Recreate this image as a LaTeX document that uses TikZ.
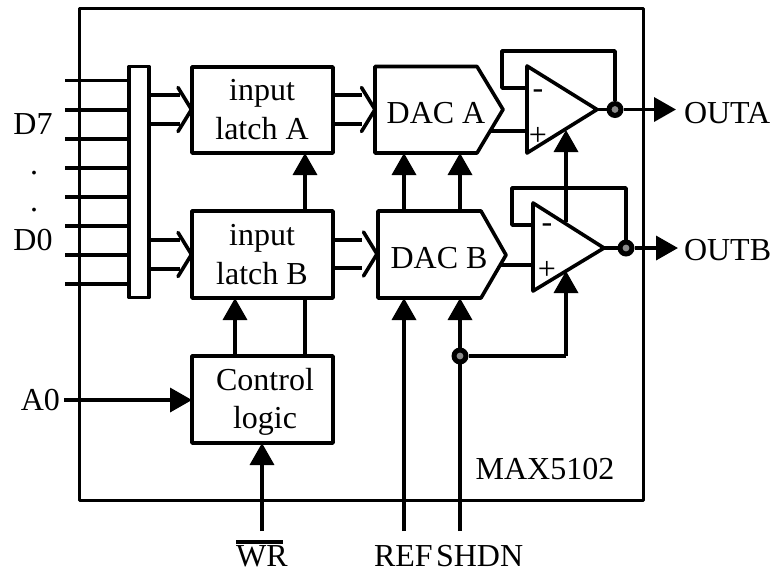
\documentclass[tikz,border=0pt]{standalone}
\usepackage{fontspec}
\setmainfont{Liberation Serif}
\usetikzlibrary{arrows.meta,calc}
\tikzset{
  wire/.style={line width=3.6pt,line join=round},
  sig/.style={wire,-{Triangle[length=22pt,width=24pt]}},
  block/.style={draw,wire,fill=white,inner sep=0pt,outer sep=0pt,minimum width=141pt},
  lbl/.style={inner sep=0pt,outer sep=0pt,anchor=base,font=\fontsize{32}{36}\selectfont},
  dotj/.style={circle,fill=black,inner sep=0pt,outer sep=0pt,minimum size=17pt,
    path picture={\fill[black!45] (path picture bounding box.center) circle (3.4pt);}},
}
\begin{document}
\begin{tikzpicture}[x=1pt,y=-1pt]
\useasboundingbox (0,0) rectangle (781,574);

% package outline
\node[draw,wire,inner sep=0pt,outer sep=0pt,minimum width=564pt,minimum height=492pt] (chip) at (361.5,254.5) {};
\node[lbl] (maxname) at (545,479) {MAX5102};

% data inputs and bus bar
\node[draw,wire,fill=white,inner sep=0pt,outer sep=0pt,minimum width=20pt,minimum height=231pt] (bar) at (139,182) {};
\foreach \i/\y in {1/80.5,2/110,3/139,4/168,5/197,6/226,7/255,8/284}{
  \coordinate (in\i) at (65,\y);
  \draw[wire] (in\i) -- (bar.west |- in\i);
}
\node[lbl] (d7) at (33,134) {D7};
\node[lbl] (d0) at (33,250) {D0};
\node[lbl] (dota) at (34,174) {.};
\node[lbl] (dotb) at (34,211) {.};

% blocks
\node[block,minimum height=86pt] (la) at (262.5,110) {};
\node[block,minimum height=87pt] (lb) at (262.5,254.5) {};
\node[block,minimum height=87pt] (ctl) at (262.5,399.5) {};
\node[lbl] (la1) at (262,100) {input};
\node[lbl] (la2) at (262,139) {latch A};
\node[lbl] (lb1) at (262,245) {input};
\node[lbl] (lb2) at (262,284) {latch B};
\node[lbl] (c1) at (265,390) {Control};
\node[lbl] (c2) at (265,428) {logic};

% DACs
\coordinate (dacaNW) at (375,66.5);
\coordinate (dacaNE) at (477,66.5);
\coordinate (dacaT) at (503,109.5);
\coordinate (dacaSE) at (477,153);
\coordinate (dacaSW) at (375,153);
\draw[wire,fill=white] (dacaNW) -- (dacaNE) -- (dacaT) -- (dacaSE) -- (dacaSW) -- cycle;
\node[lbl] (dacaL) at (436,123) {DAC A};
\coordinate (dacbNW) at (378,211);
\coordinate (dacbNE) at (481,211);
\coordinate (dacbT) at (506,255);
\coordinate (dacbSE) at (481,298);
\coordinate (dacbSW) at (378,298);
\draw[wire,fill=white] (dacbNW) -- (dacbNE) -- (dacbT) -- (dacbSE) -- (dacbSW) -- cycle;
\node[lbl] (dacbL) at (439,268) {DAC B};

% hollow bus arrows
\foreach \sx/\ex/\tip/\ya/\yb/\cy in {149/180/191.5/95/124/109.5, 149/180/191.5/240/269/254.5, 333/362/375/95/124/109.5, 333/362/377/240/268/254}{
  \draw[wire] (\sx,\ya) -- (\ex,\ya);
  \draw[wire] (\sx,\yb) -- (\ex,\yb);
  \draw[wire,line cap=round] (\tip-13.5,\cy-22) -- (\tip,\cy) -- (\tip-13.5,\cy+22);
}

% op amps
\coordinate (ampaT) at (527,66);
\coordinate (ampaB) at (527,153);
\coordinate (ampaO) at (597,109.5);
\coordinate (ampbT) at (533,203);
\coordinate (ampbB) at (533,291);
\coordinate (ampbO) at (604,248);
\node[dotj] (ja) at (615,109.5) {};
\node[dotj] (jb) at (626,248) {};
\coordinate (outa) at (676,109.5);
\coordinate (outb) at (678,248);
\draw[wire] (ampaO) -- (ja);
\draw[wire] (ampbO) -- (jb);
\draw[sig] (ja) -- (outa);
\draw[sig] (jb) -- (outb);
\draw[wire] (527,88) -- (502,88) -- (502,51) -- (ja.center |- 0,51) -- (ja);
\draw[wire] (533,225) -- (512,225) -- (512,188) -- (jb.center |- 0,188) -- (jb);
\draw[wire] (dacaT |- 0,131) ++(-12,0) -- (ampaB |- 0,131);
\draw[wire] (dacbT |- 0,265) ++(-6,0) -- (ampbB |- 0,265);
\draw[wire,fill=white] (ampaT) -- (ampaO) -- (ampaB) -- cycle;
\draw[wire,fill=white] (ampbT) -- (ampbO) -- (ampbB) -- cycle;
\draw[sig] (566,222) -- (566,130);
\node[lbl] (ma) at (538,98) {-};
\node[lbl] (pa) at (538,145) {+};
\node[lbl] (mb) at (547,232) {-};
\node[lbl] (pb) at (547,279) {+};
\node[lbl,anchor=base west] (oa) at (684,123) {OUTA};
\node[lbl,anchor=base west] (ob) at (684,260) {OUTB};

% control connections
\draw[sig] (lb.north -| 305,0) -- (la.south -| 305,0);
\draw[sig] (ctl.north -| 235,0) -- (lb.south -| 235,0);
\draw[wire] (ctl.north -| 305,0) -- (lb.south -| 305,0);
\draw[sig] (dacbNW -| 404,0) -- (dacaSW -| 404,0);
\draw[sig] (dacbNW -| 460,0) -- (dacaSW -| 460,0);

% external inputs
\coordinate (a0in) at (64,400);
\draw[sig] (a0in) -- (ctl.west |- a0in);
\node[lbl,anchor=base east] (a0) at (60,410) {A0};
\coordinate (wrin) at (262,531);
\coordinate (refin) at (404,531);
\coordinate (shin) at (460,531);
\draw[sig] (wrin) -- (ctl.south -| wrin);
\draw[sig] (refin) -- (dacbSW -| refin);
\draw[sig] (shin) -- (dacbSW -| shin);
\node[dotj] (js) at (460,356) {};
\coordinate (ampin) at (566,356);
\draw[wire] (js) -- (ampin);
\draw[sig] (ampin) -- (566,271);
\node[lbl] (wr) at (262,566.5) {WR};
\coordinate (wrbarL) at (236,542);
\coordinate (wrbarR) at (283,542);
\draw[wire] (wrbarL) -- (wrbarR);
\node[lbl,anchor=base west] (ref) at (374,566) {REF};
\node[lbl,anchor=base west] (sh) at (436,566) {SHDN};
\end{tikzpicture}
\end{document}
